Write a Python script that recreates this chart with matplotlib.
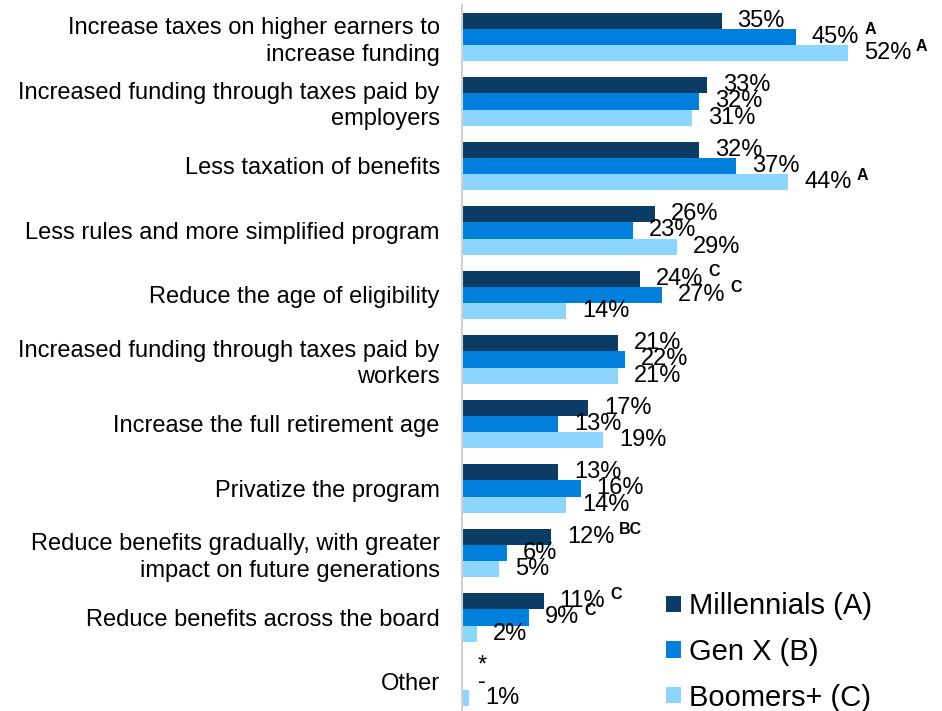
import matplotlib
matplotlib.use('Agg')
import matplotlib.pyplot as plt
import numpy as np
from matplotlib.patches import Patch

plt.rcParams['font.family'] = ['Liberation Sans', 'DejaVu Sans']

# Dados do grafico
categorias = [
    'Increase taxes on higher earners to\nincrease funding',
    'Increased funding through taxes paid by\nemployers',
    'Less taxation of benefits',
    'Less rules and more simplified program',
    'Reduce the age of eligibility',
    'Increased funding through taxes paid by\nworkers',
    'Increase the full retirement age',
    'Privatize the program',
    'Reduce benefits gradually, with greater\nimpact on future generations',
    'Reduce benefits across the board',
    'Other',
]
millennials = [35, 33, 32, 26, 24, 21, 17, 13, 12, 11, 0]
gen_x = [45, 32, 37, 23, 27, 22, 13, 16, 6, 9, 0]
boomers = [52, 31, 44, 29, 14, 21, 19, 14, 5, 2, 1]

# letras de diferenca significativa
sig_millennials = ['', '', '', '', 'C', '', '', '', 'BC', 'C', '']
sig_gen_x = ['A', '', '', '', 'C', '', '', '', '', 'C', '']
sig_boomers = ['A', '', 'A', '', '', '', '', '', '', '', '']

# textos especiais para valores nulos
texto_millennials = {10: '*'}
texto_gen_x = {10: '-'}
texto_boomers = {}

series = ['Millennials (A)', 'Gen X (B)', 'Boomers+ (C)']
cores = ['#0B3C66', '#0080DC', '#8AD6FF']

fig = plt.figure(figsize=(9.42, 7.11), dpi=100)
ax = fig.add_axes([462 / 942, 0, 445 / 942, 1 - 4.75 / 711])

y = np.arange(len(categorias))
h = 0.25
dados = [
    (millennials, sig_millennials, texto_millennials, -h),
    (gen_x, sig_gen_x, texto_gen_x, 0),
    (boomers, sig_boomers, texto_boomers, h),
]

rotulos = []
for (valores, sigs, textos, desloc), cor in zip(dados, cores):
    ax.barh(y + desloc, valores, height=h, color=cor)
    for i, v in enumerate(valores):
        txt = textos.get(i, '{}%'.format(v))
        t = ax.annotate(txt, xy=(v, y[i] + desloc), xytext=(11.5, 0),
                        textcoords='offset points', ha='left', va='center',
                        fontsize=17, color='black')
        rotulos.append((t, sigs[i]))

ax.set_xlim(0, 60)
ax.set_ylim(10.45, -0.5)
ax.set_yticks(y)
ax.set_yticklabels(categorias, fontsize=17, linespacing=1.25)
ax.tick_params(axis='y', length=0, pad=16)
ax.set_xticks([])
for lado in ['top', 'right', 'bottom']:
    ax.spines[lado].set_visible(False)
ax.spines['left'].set_color('#D0D0D0')
ax.spines['left'].set_linewidth(1.5)

# letras sobrescritas ao lado dos rotulos
fig.canvas.draw()
renderer = fig.canvas.get_renderer()
inv = fig.transFigure.inverted()
for t, sig in rotulos:
    if not sig:
        continue
    bb = t.get_window_extent(renderer)
    px, py = bb.x1 + 5, (bb.y0 + bb.y1) / 2 + 7
    fx, fy = inv.transform((px, py))
    fig.text(fx, fy, sig, fontsize=11.5, fontweight='bold', ha='left', va='center')

handles = [Patch(facecolor=c, label=s) for c, s in zip(cores, series)]
fig.legend(handles=handles, loc='center left', bbox_to_anchor=(666 / 942, 1 - 652 / 711),
           frameon=False, fontsize=21, handlelength=0.5, handleheight=0.5,
           handletextpad=0.3, labelspacing=0.6, borderpad=0, borderaxespad=0)

plt.savefig('out.png', dpi=100)
plt.close()
